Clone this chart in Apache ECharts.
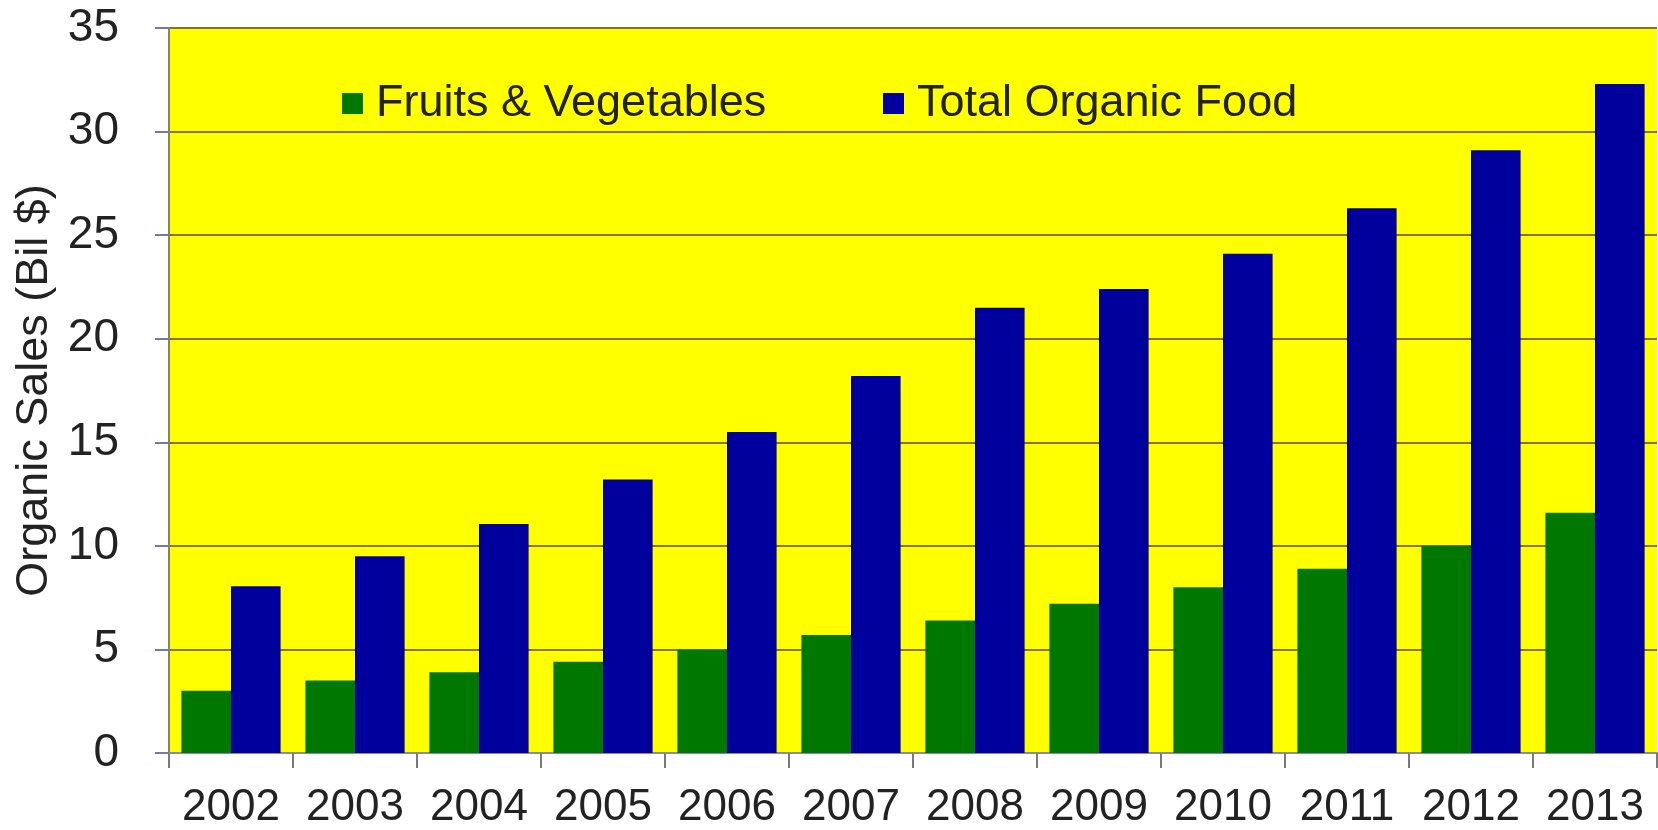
<!DOCTYPE html>
<html>
<head>
<meta charset="utf-8">
<script src="https://cdn.jsdelivr.net/npm/echarts@6/dist/echarts.min.js"></script>
<style>
html,body{margin:0;padding:0;background:#fff;}
#chart{width:1658px;height:830px;}
</style>
</head>
<body>
<div id="chart"></div>
<script>
var years = ['2002','2003','2004','2005','2006','2007','2008','2009','2010','2011','2012','2013'];
var fruitsVeg = [3.0, 3.5, 3.9, 4.4, 5.0, 5.7, 6.4, 7.2, 8.0, 8.9, 10.0, 11.6];
var totalOrganic = [8.05, 9.5, 11.05, 13.2, 15.5, 18.2, 21.5, 22.4, 24.1, 26.3, 29.1, 32.3];
var seriesNames = ['Fruits & Vegetables', 'Total Organic Food'];
var yAxisTitle = 'Organic Sales (Bil $)';

var chart = echarts.init(document.getElementById('chart'), null, {renderer:'canvas'});
var textColor = '#222222';
var gridColor = '#857518';
var legendText = {fontFamily:'Liberation Sans, Arial, sans-serif', fontSize:45, color:textColor, padding:[0,0,0,8]};
chart.setOption({
  animation:false,
  backgroundColor:'#ffffff',
  grid:{left:169, top:28, right:1, bottom:75, show:true, backgroundColor:'#ffff00', borderWidth:0},
  legend:[
    {data:[seriesNames[0]], left:337, top:76, itemWidth:21, itemHeight:21, icon:'rect', textStyle:legendText, itemGap:10},
    {data:[seriesNames[1]], left:878, top:76, itemWidth:21, itemHeight:21, icon:'rect', textStyle:legendText, itemGap:10}
  ],
  xAxis:{
    type:'category', data:years,
    axisLine:{show:true, lineStyle:{color:'#8a8aa0', width:2}},
    axisTick:{show:true, length:15, lineStyle:{color:'#7a7a7a', width:2}, alignWithLabel:false, interval:0},
    axisLabel:{interval:0, margin:33, fontSize:44, color:textColor, fontFamily:'Liberation Sans, Arial, sans-serif'},
    splitLine:{show:false}
  },
  yAxis:{
    type:'value', min:0, max:35, interval:5,
    name:yAxisTitle, nameLocation:'middle', nameGap:106,
    nameTextStyle:{fontSize:45, color:textColor, fontFamily:'Liberation Sans, Arial, sans-serif'},
    axisLine:{show:true, lineStyle:{color:'#8c8450', width:2}},
    axisTick:{show:true, length:14, lineStyle:{color:'#7878a8', width:2}},
    axisLabel:{margin:50, fontSize:46, color:textColor, fontFamily:'Liberation Sans, Arial, sans-serif'},
    splitLine:{show:true, lineStyle:{color:gridColor, width:2}}
  },
  series:[
    {name:seriesNames[0], type:'bar', data:fruitsVeg, itemStyle:{color:'#007800'}, barGap:'0%', barCategoryGap:'20%'},
    {name:seriesNames[1], type:'bar', data:totalOrganic, itemStyle:{color:'#00009c'}, barGap:'0%', barCategoryGap:'20%'}
  ]
});
</script>
</body>
</html>
